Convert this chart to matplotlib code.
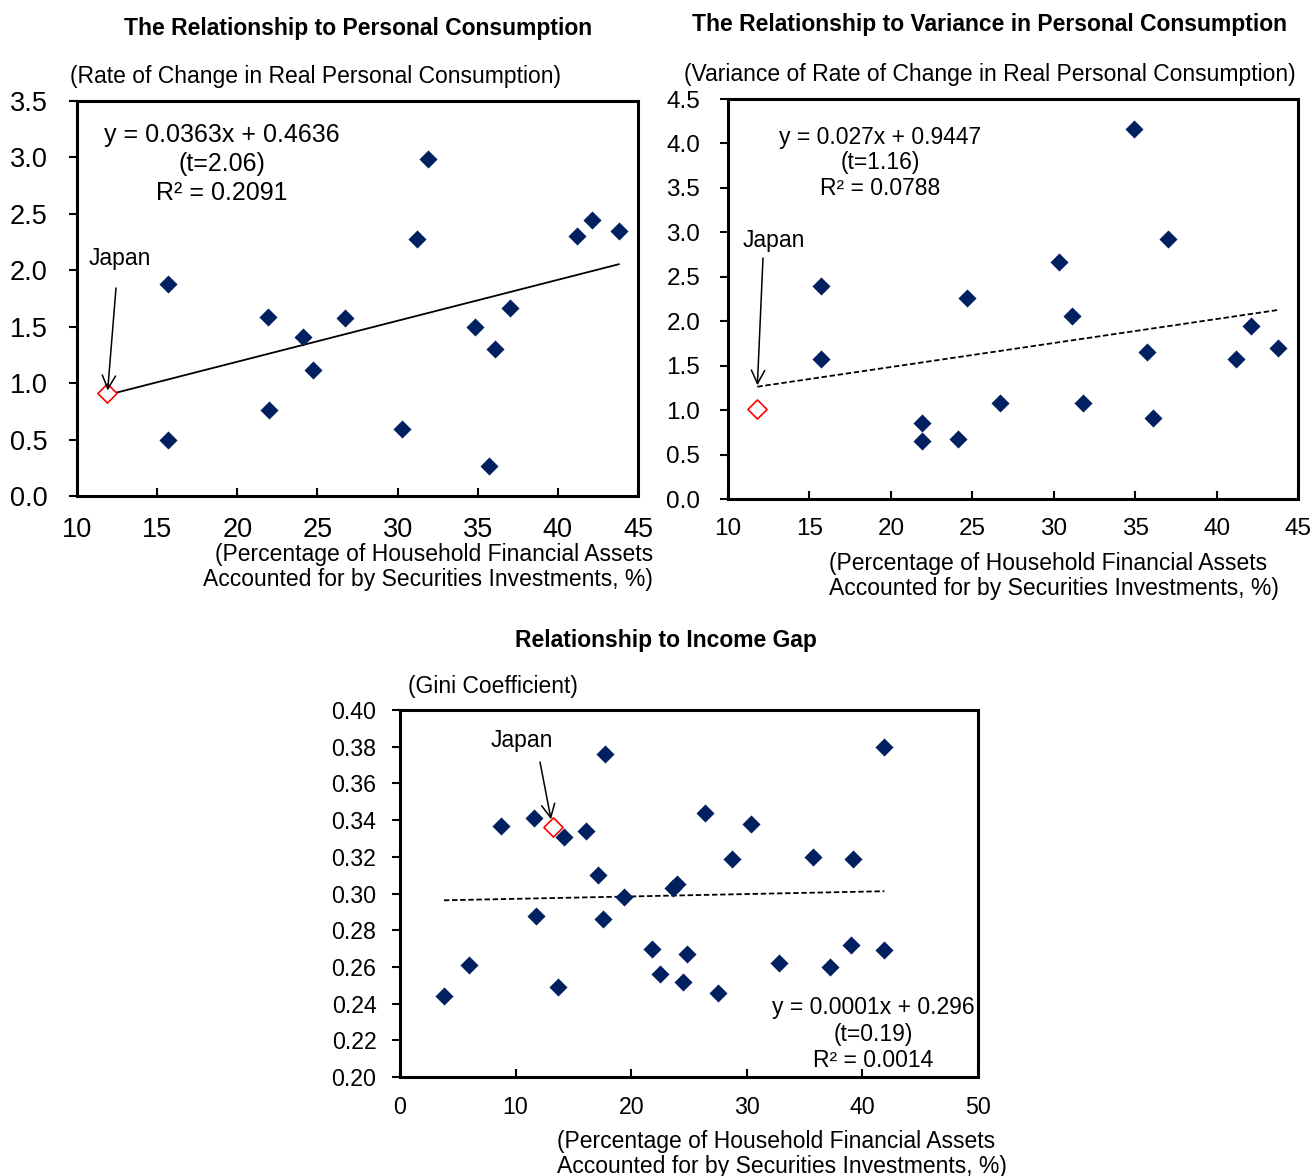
import numpy as np
import matplotlib
matplotlib.use("Agg")
import matplotlib.pyplot as plt

plt.rcParams['font.family'] = ['Liberation Sans', 'DejaVu Sans']

# --- consumption growth vs. securities share ---
cons_x = [15.7, 15.7, 21.9, 22.0, 24.1, 24.7, 26.7, 30.3, 31.2, 31.9,
          34.8, 36.1, 35.7, 37.0, 41.2, 42.1, 43.8]
cons_y = [1.88, 0.50, 1.59, 0.76, 1.41, 1.12, 1.58, 0.59, 2.28, 2.99,
          1.50, 1.30, 0.27, 1.67, 2.30, 2.45, 2.35]
cons_japan = (11.9, 0.91)
cons_fit = (0.0363, 0.4636)
cons_eq = "y = 0.0363x + 0.4636\n(t=2.06)\nR² = 0.2091"

# --- variance of consumption growth vs. securities share ---
var_x = [15.7, 15.7, 21.9, 21.9, 24.1, 24.7, 26.7, 30.3, 31.1, 31.8,
         34.9, 35.7, 36.1, 37.0, 41.2, 42.1, 43.8]
var_y = [2.40, 1.58, 0.86, 0.65, 0.68, 2.26, 1.08, 2.67, 2.06, 1.08,
         4.16, 1.65, 0.91, 2.93, 1.58, 1.95, 1.70]
var_japan = (11.8, 1.01)
var_fit = (0.027, 0.9447)
var_eq = "y = 0.027x + 0.9447\n(t=1.16)\nR² = 0.0788"

# --- Gini coefficient vs. securities share ---
gini_x = [3.8, 6.0, 8.7, 11.6, 11.8, 13.7, 14.2, 16.1, 17.1, 17.7,
          17.6, 19.4, 21.8, 22.5, 23.6, 24.0, 24.5, 24.8, 26.4, 27.5,
          28.7, 30.4, 32.8, 35.7, 37.2, 39.0, 39.2, 41.9, 41.9]
gini_y = [0.244, 0.261, 0.337, 0.341, 0.288, 0.249, 0.331, 0.334, 0.310, 0.376,
          0.286, 0.298, 0.270, 0.256, 0.303, 0.305, 0.252, 0.267, 0.344, 0.246,
          0.319, 0.338, 0.262, 0.320, 0.260, 0.272, 0.319, 0.380, 0.269]
gini_japan = (13.2, 0.336)
gini_fit = (0.00013, 0.2958)
gini_eq = "y = 0.0001x + 0.296\n(t=0.19)\nR² = 0.0014"

x_label = "(Percentage of Household Financial Assets\nAccounted for by Securities Investments, %)"

W, H = 1312, 1176
FS = 16.5
fig = plt.figure(figsize=(W / 100, H / 100), dpi=100)


def px_axes(left, top, right, bottom):
    return fig.add_axes([left / W, 1 - bottom / H, (right - left) / W, (bottom - top) / H])


def fig_text(x, y, s, **kw):
    fig.text(x / W, 1 - y / H, s, **kw)


def style(ax, fs, ypad, xpad):
    for sp in ax.spines.values():
        sp.set_linewidth(2.2)
    ax.tick_params(axis='y', direction='out', length=6, width=1.5, labelsize=fs, pad=ypad)
    ax.tick_params(axis='x', direction='in', length=6, width=1.5, labelsize=fs, pad=xpad)


def draw_panel(ax, xs, ys, japan, fit, ls):
    ax.scatter(xs, ys, marker='D', s=85, color='#002060', zorder=3, linewidths=0)
    ax.scatter([japan[0]], [japan[1]], marker='D', s=95, facecolor='white',
               edgecolor='red', linewidths=1.2, zorder=3)
    lo = min(min(xs), japan[0])
    hi = max(xs)
    fx = np.array([lo, hi])
    ax.plot(fx, fit[0] * fx + fit[1], color='black', lw=1.3, ls=ls, zorder=2)


def japan_arrow(ax, tip, start_px, shrink):
    ax.annotate("", xy=tip, xytext=(start_px[0], H - start_px[1]),
                textcoords='figure pixels',
                arrowprops=dict(arrowstyle='->', color='black', lw=1.1,
                                mutation_scale=24, shrinkA=0, shrinkB=shrink))


# panel 1
ax1 = px_axes(77, 101, 638, 496)
draw_panel(ax1, cons_x, cons_y, cons_japan, cons_fit, '-')
ax1.set_xlim(10, 45)
ax1.set_ylim(0, 3.5)
ax1.set_xticks(np.arange(10, 46, 5))
ax1.set_yticks(np.arange(0, 3.51, 0.5))
ax1.yaxis.set_major_formatter(matplotlib.ticker.FormatStrFormatter('%.1f'))
style(ax1, 19.5, 15, 15)
fig_text(89, 258, "Japan", fontsize=FS, ha='left', va='center')
japan_arrow(ax1, cons_japan, (116, 288), 2)
fig_text(222, 164, cons_eq, fontsize=18, ha='center', va='center', linespacing=1.28)
fig_text(358, 29, "The Relationship to Personal Consumption", fontsize=FS,
         fontweight='bold', ha='center', va='center')
fig_text(70, 76, "(Rate of Change in Real Personal Consumption)", fontsize=FS,
         ha='left', va='center')
fig_text(653, 567, x_label, fontsize=FS, ha='right', va='center', multialignment='right',
         linespacing=1.15)

# panel 2
ax2 = px_axes(728, 99, 1298, 499)
draw_panel(ax2, var_x, var_y, var_japan, var_fit, (0, (3, 1.5)))
ax2.set_xlim(10, 45)
ax2.set_ylim(0, 4.5)
ax2.set_xticks(np.arange(10, 46, 5))
ax2.set_yticks(np.arange(0, 4.51, 0.5))
ax2.yaxis.set_major_formatter(matplotlib.ticker.FormatStrFormatter('%.1f'))
style(ax2, 17.5, 14, 14)
fig_text(743, 241, "Japan", fontsize=FS, ha='left', va='center')
japan_arrow(ax2, (var_japan[0], var_fit[0] * var_japan[0] + var_fit[1]), (763, 258), 1)
fig_text(880, 163, var_eq, fontsize=FS, ha='center', va='center', linespacing=1.13)
fig_text(990, 24, "The Relationship to Variance in Personal Consumption", fontsize=FS,
         fontweight='bold', ha='center', va='center')
fig_text(684, 74, "(Variance of Rate of Change in Real Personal Consumption)", fontsize=FS,
         ha='left', va='center')
fig_text(829, 576, x_label, fontsize=FS, ha='left', va='center', linespacing=1.15)

# panel 3
ax3 = px_axes(400, 710, 978, 1077)
draw_panel(ax3, gini_x, gini_y, gini_japan, gini_fit, (0, (3, 1.5)))
ax3.set_xlim(0, 50)
ax3.set_ylim(0.2, 0.4)
ax3.set_xticks(np.arange(0, 51, 10))
ax3.set_yticks(np.arange(0.2, 0.401, 0.02))
ax3.yaxis.set_major_formatter(matplotlib.ticker.FormatStrFormatter('%.2f'))
style(ax3, 16.7, 11, 14)
fig_text(491, 741, "Japan", fontsize=FS, ha='left', va='center')
japan_arrow(ax3, gini_japan, (540, 762), 6)
fig_text(873, 1034, gini_eq, fontsize=FS, ha='center', va='center', linespacing=1.17)
fig_text(666, 641, "Relationship to Income Gap", fontsize=FS,
         fontweight='bold', ha='center', va='center')
fig_text(408, 686, "(Gini Coefficient)", fontsize=FS, ha='left', va='center')
fig_text(557, 1154, x_label, fontsize=FS, ha='left', va='center', linespacing=1.15)

fig.savefig("out.png", dpi=100)
